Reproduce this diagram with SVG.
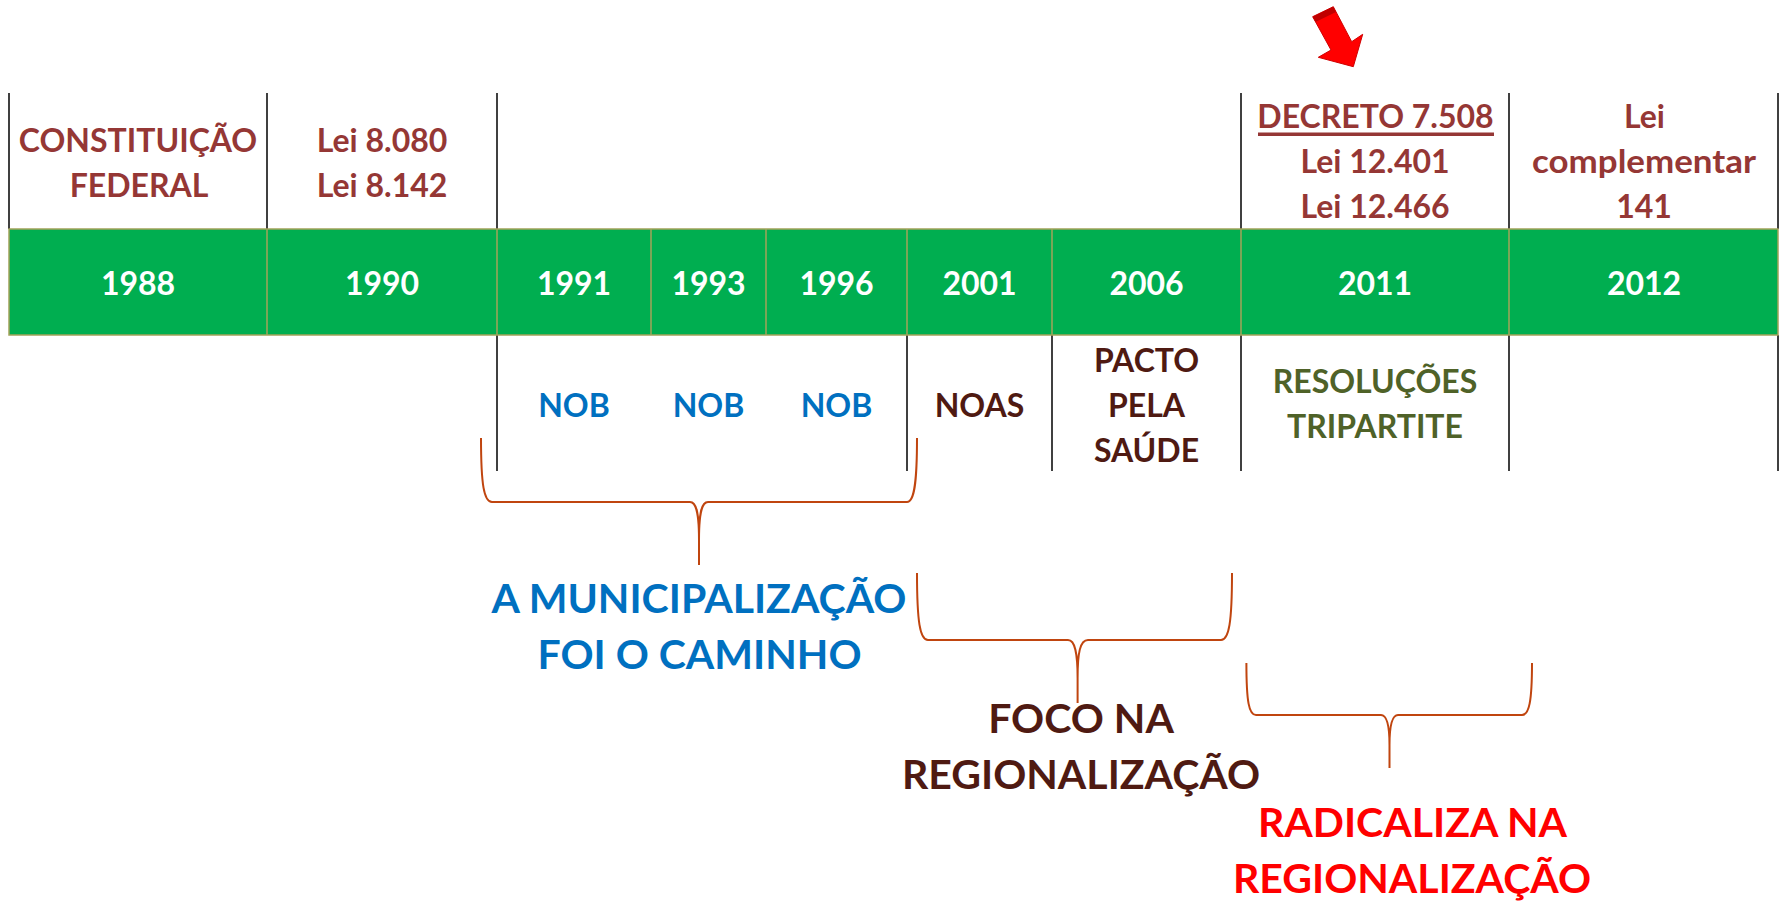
<svg xmlns="http://www.w3.org/2000/svg" width="1785" height="903" viewBox="0 0 1785 903">
<defs>
<style>
text { font-family: Lato, "Open Sans", "Liberation Sans", sans-serif; font-weight: bold; text-anchor: middle; }
.t { font-size: 32px; }
.big { font-size: 41px; }
.law { fill: #953735; }
.yr { fill: #FFFFFF; }
.nob { fill: #0070C0; }
.brn { fill: #4F1A12; }
.olv { fill: #4F6228; }
.red { fill: #FF0000; }
.vl { stroke: #404040; stroke-width: 2; fill: none; }
.cell { stroke: #A3A35A; stroke-width: 1.5; }
.brace { stroke: #C0450F; stroke-width: 2; fill: none; }
</style>
</defs>
<rect width="1785" height="903" fill="#FFFFFF"/>

<g id="grid">
<line class="vl" x1="9" y1="93" x2="9" y2="229"/>
<line class="vl" x1="267" y1="93" x2="267" y2="229"/>
<line class="vl" x1="497" y1="93" x2="497" y2="229"/>
<line class="vl" x1="1241" y1="93" x2="1241" y2="229"/>
<line class="vl" x1="1509" y1="93" x2="1509" y2="229"/>
<line class="vl" x1="1778" y1="93" x2="1778" y2="229"/>
<line class="vl" x1="497" y1="335" x2="497" y2="471"/>
<line class="vl" x1="907" y1="335" x2="907" y2="471"/>
<line class="vl" x1="1052" y1="335" x2="1052" y2="471"/>
<line class="vl" x1="1241" y1="335" x2="1241" y2="471"/>
<line class="vl" x1="1509" y1="335" x2="1509" y2="471"/>
<line class="vl" x1="1778" y1="335" x2="1778" y2="471"/>
</g>

<g id="band">
<rect x="9" y="229" width="1769" height="106" fill="#00AE50" class="cell"/>
<line class="cell" x1="267" y1="229" x2="267" y2="335"/>
<line class="cell" x1="497" y1="229" x2="497" y2="335"/>
<line class="cell" x1="651" y1="229" x2="651" y2="335"/>
<line class="cell" x1="766" y1="229" x2="766" y2="335"/>
<line class="cell" x1="907" y1="229" x2="907" y2="335"/>
<line class="cell" x1="1052" y1="229" x2="1052" y2="335"/>
<line class="cell" x1="1241" y1="229" x2="1241" y2="335"/>
<line class="cell" x1="1509" y1="229" x2="1509" y2="335"/>
</g>

<g id="y1988"><text class="t yr" x="138" y="295">1988</text>
<text class="t law" x="138" y="152">CONSTITUIÇÃO</text><text class="t law" x="139" y="197">FEDERAL</text></g>
<g id="y1990"><text class="t yr" x="382" y="295">1990</text>
<text class="t law" x="382" y="152">Lei 8.080</text><text class="t law" x="382" y="197">Lei 8.142</text></g>
<g id="y1991"><text class="t yr" x="574" y="295">1991</text><text class="t nob" x="574" y="417">NOB</text></g>
<g id="y1993"><text class="t yr" x="708.5" y="295">1993</text><text class="t nob" x="708.5" y="417">NOB</text></g>
<g id="y1996"><text class="t yr" x="836.5" y="295">1996</text><text class="t nob" x="836.5" y="417">NOB</text></g>
<g id="y2001"><text class="t yr" x="979.5" y="295">2001</text><text class="t brn" x="979.5" y="417">NOAS</text></g>
<g id="y2006"><text class="t yr" x="1146.5" y="295">2006</text>
<text class="t brn" x="1146.5" y="372">PACTO</text><text class="t brn" x="1146.5" y="417">PELA</text><text class="t brn" x="1146.5" y="462">SAÚDE</text></g>
<g id="y2011"><text class="t yr" x="1375" y="295">2011</text>
<text class="t law" x="1375.5" y="128">DECRETO 7.508</text>
<rect x="1258" y="132.5" width="236" height="3.5" fill="#953735"/>
<text class="t law" x="1375" y="173">Lei 12.401</text><text class="t law" x="1375" y="218">Lei 12.466</text>
<text class="t olv" x="1375" y="393">RESOLUÇÕES</text><text class="t olv" x="1375" y="438">TRIPARTITE</text></g>
<g id="y2012"><text class="t yr" x="1644" y="295">2012</text>
<text class="t law" x="1644.5" y="128">Lei</text><text class="t law" x="1644" y="173" textLength="224" lengthAdjust="spacingAndGlyphs">complementar</text><text class="t law" x="1644" y="218">141</text></g>

<g id="arrow">
<polygon points="1312.7,16.7 1333.3,6.7 1351.7,41.7 1362.7,34.3 1353.3,66.7 1318.3,57.3 1331,50" fill="#FF0000" stroke="#D00000" stroke-width="1"/>
<polygon points="1312.7,16.7 1333.3,6.7 1336,12 1315.5,22" fill="#C00000"/>
</g>

<g id="connectors">
<path class="brace" d="M 481 438 C 481 485 484 502 492 502 L 690 502 C 697 502 699 515 699 540 L 699 565 L 699 540 C 699 515 701 502 708 502 L 907 502 C 914 502 917 485 917 438"/>
<path class="brace" d="M 917 573 C 917 622 920 640 928 640 L 1068 640 C 1075 640 1077.6 653 1077.6 678 L 1077.6 703 L 1077.6 678 C 1077.6 653 1080 640 1088 640 L 1221 640 C 1229 640 1232 622 1232 573"/>
<path class="brace" d="M 1246.4 663 C 1246.4 702 1249 715 1256 715 L 1381 715 C 1387 715 1389.5 726 1389.5 745 L 1389.5 768 L 1389.5 745 C 1389.5 726 1392 715 1398 715 L 1522 715 C 1529 715 1532 702 1532 663"/>
</g>

<g id="label-municipalizacao">
<text class="big nob" x="699" y="613">A MUNICIPALIZAÇÃO</text>
<text class="big nob" x="699.5" y="669">FOI O CAMINHO</text>
</g>
<g id="label-foco">
<text class="big brn" x="1081" y="733">FOCO NA</text>
<text class="big brn" x="1081" y="789">REGIONALIZAÇÃO</text>
</g>
<g id="label-radicaliza">
<text class="big red" x="1412.5" y="837">RADICALIZA NA</text>
<text class="big red" x="1412" y="893">REGIONALIZAÇÃO</text>
</g>
</svg>
